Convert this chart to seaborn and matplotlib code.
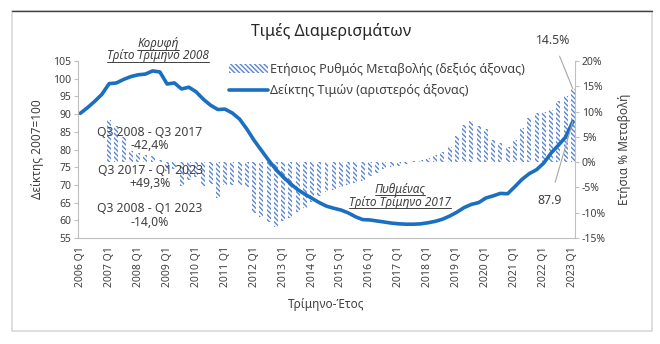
import numpy as np
import pandas as pd
import matplotlib
matplotlib.use("Agg")
import matplotlib.pyplot as plt
import seaborn as sns
from matplotlib.patches import Patch, Rectangle
from matplotlib.lines import Line2D

# ---------------- data ----------------
years = list(range(2006, 2024))
quarters = [f"{y} Q{q}" for y in years for q in (1, 2, 3, 4)][:69]
tick_labels = [f"{y} Q1" for y in years]

price_index = [
    90.2, 91.8, 93.6, 95.6, 98.6, 98.8, 99.8, 100.6, 101.1, 101.3,
    102.2, 101.9, 98.5, 98.8, 97.1, 97.6, 96.3, 94.2, 92.5, 91.3,
    91.4, 90.3, 88.6, 85.8, 82.6, 79.8, 77.0, 74.4, 72.3, 70.4,
    68.7, 67.4, 66.2, 65.0, 64.0, 63.4, 62.9, 62.1, 61.0, 60.2,
    60.1, 59.8, 59.5, 59.2, 59.0, 58.9, 58.9, 59.0, 59.3, 59.7,
    60.3, 61.2, 62.3, 63.6, 64.5, 65.0, 66.3, 66.9, 67.6, 67.5,
    69.5, 71.6, 73.2, 74.3, 76.2, 79.0, 81.2, 83.5, 87.9,
]

annual_change = [
    np.nan, np.nan, np.nan, np.nan, 8.4, 7.2, 5.0, 2.2, 1.8, 1.5,
    1.2, 0.5, -1.8, -1.3, -4.8, -3.5, -3.0, -4.8, -4.4, -7.1,
    -4.6, -4.6, -4.5, -5.0, -10.0, -10.9, -11.8, -12.8, -11.7, -11.0,
    -9.9, -9.0, -7.8, -6.7, -5.9, -5.5, -5.0, -4.5, -4.1, -3.7,
    -2.8, -2.1, -1.3, -0.9, -0.7, -0.3, 0.2, 0.5, 0.8, 1.5,
    2.1, 3.0, 5.2, 7.4, 8.1, 7.1, 6.6, 4.3, 3.8, 3.0,
    4.4, 6.8, 8.7, 9.7, 10.0, 10.4, 12.0, 13.1, 14.5,
]

title = "Τιμές Διαμερισμάτων"
legend_bar = "Ετήσιος Ρυθμός Μεταβολής (δεξιός άξονας)"
legend_line = "Δείκτης Τιμών (αριστερός άξονας)"
ylabel_left = "Δείκτης 2007=100"
ylabel_right = "Ετήσια % Μεταβολή"
xlabel = "Τρίμηνο-Έτος"

# ---------------- style ----------------
sns.set_theme(style="white")
plt.rcParams["font.family"] = ["Noto Sans", "DejaVu Sans"]
plt.rcParams["hatch.linewidth"] = 1.0
TXT = "#404040"
LINE_C = "#1a6fc0"
BAR_C = "#5a85d6"
AX_C = "#bfbfbf"

W, H = 660, 344
fig = plt.figure(figsize=(W / 100, H / 100), dpi=100)
fig.patch.set_facecolor("white")


def fx(px):
    return px / W


def fy(py):
    return 1 - py / H


ax = fig.add_axes([fx(78), fy(238), fx(575) - fx(78), fy(61) - fy(238)])
ax2 = ax.twinx()

df = pd.DataFrame({
    "pos": np.arange(len(quarters)),
    "quarter": quarters,
    "index": price_index,
    "change": annual_change,
})

sns.barplot(data=df.dropna(), x="pos", y="change", native_scale=True,
            width=0.55, color=BAR_C, errorbar=None, ax=ax2)
for p in ax2.patches:
    p.set_facecolor("none")
    p.set_edgecolor(BAR_C)
    p.set_hatch("\\" * 7)
    p.set_linewidth(0)

sns.lineplot(data=df, x="pos", y="index", color=LINE_C, linewidth=2.6, ax=ax)

ax.set_zorder(ax2.get_zorder() + 1)
ax.patch.set_visible(False)

ax.set_xlim(-0.3, 68.3)
ax.set_ylim(55, 105)
ax2.set_ylim(-15, 20)
ax.set_yticks(np.arange(55, 106, 5))
ax2.set_yticks(np.arange(-15, 21, 5))
ax2.set_yticklabels([f"{v}%" for v in range(-15, 21, 5)])
ax.set_xticks(df["pos"][::4])
ax.set_xticklabels(tick_labels, rotation=90)

for a in (ax, ax2):
    for s in a.spines.values():
        s.set_color(AX_C)
        s.set_linewidth(0.8)
    a.spines["top"].set_visible(False)
    a.tick_params(colors=TXT, labelsize=7.5, length=3, width=0.8, color=AX_C, pad=2)
ax.tick_params(axis="x", labelsize=7.5, pad=3)
ax.spines["right"].set_visible(False)
ax2.spines["left"].set_visible(False)
ax2.spines["bottom"].set_visible(False)
ax.grid(False)
ax2.grid(False)

ax.set_xlabel(xlabel, fontsize=8.5, color=TXT)
ax.set_ylabel(ylabel_left, fontsize=8.5, color=TXT)
ax2.set_ylabel(ylabel_right, fontsize=8.5, color=TXT)
ax.xaxis.set_label_coords(0.5, (238 - 298) / 177)
ax.yaxis.set_label_coords((44 - 78) / 497, 0.5)
ax2.yaxis.set_label_coords((618 - 78) / 497, 0.5)

# title
fig.text(fx(331), fy(31), title, ha="center", va="center", fontsize=11.5, color="#262626")

# legend
handles = [
    Patch(facecolor="none", edgecolor=BAR_C, hatch="\\" * 7, linewidth=0),
    Line2D([0], [0], color=LINE_C, linewidth=2.6),
]
leg = fig.legend(handles, [legend_bar, legend_line], loc="upper left",
                 bbox_to_anchor=(fx(229), fy(63)), frameon=False,
                 fontsize=9, handlelength=3.1, handletextpad=0.15,
                 labelspacing=0.65, borderpad=0, borderaxespad=0)
for t in leg.get_texts():
    t.set_color(TXT)

# annotation texts
underlined = []
kw = dict(ha="center", va="center", color=TXT)
underlined.append(fig.text(fx(158), fy(44), "Κορυφή", fontsize=8.5, style="italic", **kw))
underlined.append(fig.text(fx(158), fy(56), "Τρίτο Τρίμηνο 2008", fontsize=8.5, style="italic", **kw))
underlined.append(fig.text(fx(400), fy(189), "Πυθμένας", fontsize=8.5, style="italic", **kw))
underlined.append(fig.text(fx(400), fy(202), "Τρίτο Τρίμηνο 2017", fontsize=8.5, style="italic", **kw))

fig.text(fx(150), fy(132), "Q3 2008 - Q3 2017", fontsize=8.8, **kw)
fig.text(fx(150), fy(145), "-42,4%", fontsize=8.8, **kw)
fig.text(fx(150), fy(171), "Q3 2017 - Q1 2023", fontsize=8.8, **kw)
fig.text(fx(150), fy(184), "+49,3%", fontsize=8.8, **kw)
fig.text(fx(150), fy(209), "Q3 2008 - Q1 2023", fontsize=8.8, **kw)
fig.text(fx(150), fy(222), "-14,0%", fontsize=8.8, **kw)

ax2.annotate("14.5%", xy=(68, annual_change[-1]), xytext=(553, H - 40),
             textcoords="figure pixels", ha="center", va="center",
             fontsize=8.8, color=TXT,
             arrowprops=dict(arrowstyle="-", color="#a6a6a6", lw=0.8,
                             shrinkA=5, shrinkB=0))
ax.annotate("87.9", xy=(68, price_index[-1]), xytext=(550, H - 200),
            textcoords="figure pixels", ha="center", va="center",
            fontsize=8.8, color=TXT, zorder=10,
            arrowprops=dict(arrowstyle="-", color="#a6a6a6", lw=0.8,
                            shrinkA=6, shrinkB=0))

# underline
fig.canvas.draw()
r = fig.canvas.get_renderer()
inv = fig.transFigure.inverted()
for t in underlined:
    bb = t.get_window_extent(r)
    (x0, y0), (x1, y1) = inv.transform([(bb.x0, bb.y0 + 1), (bb.x1, bb.y0 + 1)])
    fig.add_artist(Line2D([x0, x1], [y0, y1], transform=fig.transFigure,
                          color=TXT, linewidth=0.7))

# frame
fig.add_artist(Rectangle((fx(12), fy(331)), fx(652) - fx(12), fy(11) - fy(331),
                         transform=fig.transFigure, fill=False,
                         edgecolor="#d9d9d9", linewidth=1.2))
fig.add_artist(Line2D([fx(12), fx(652)], [fy(11), fy(11)], transform=fig.transFigure,
                      color="#404040", linewidth=1.0))

fig.savefig("out.png", dpi=100)
